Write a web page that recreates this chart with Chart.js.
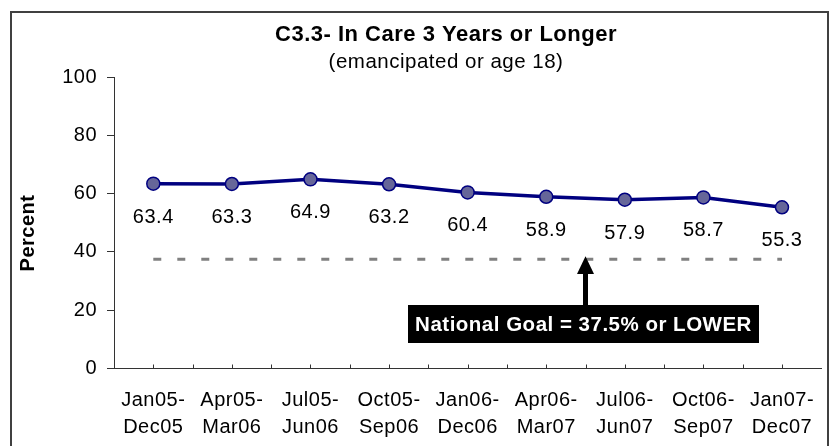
<!DOCTYPE html>
<html>
<head>
<meta charset="utf-8">
<script src="https://cdn.jsdelivr.net/npm/chart.js@4"></script>
<style>
  html, body { margin: 0; padding: 0; background: #fff; }
  #wrap { width: 831px; height: 446px; position: relative; }
</style>
</head>
<body>
<div id="wrap"><canvas id="careChart" width="831" height="446"></canvas></div>
<script>
const periods = [
    ['Jan05-', 'Dec05'], ['Apr05-', 'Mar06'], ['Jul05-', 'Jun06'],
    ['Oct05-', 'Sep06'], ['Jan06-', 'Dec06'], ['Apr06-', 'Mar07'],
    ['Jul06-', 'Jun07'], ['Oct06-', 'Sep07'], ['Jan07-', 'Dec07']
];
const percentValues = [63.4, 63.3, 64.9, 63.2, 60.4, 58.9, 57.9, 58.7, 55.3];
const goalValues = [37.5, 37.5, 37.5, 37.5, 37.5, 37.5, 37.5, 37.5, 37.5];
const yTicks = [0, 20, 40, 60, 80, 100];

const FONT = '"Liberation Sans", Arial, sans-serif';
Chart.defaults.font.family = FONT;
Chart.defaults.color = '#000';

// frame, titles, axis title, goal box and point labels
const extras = {
    id: 'extras',
    beforeDraw(chart) {
        const c = chart.ctx;
        c.save();
        c.fillStyle = '#fff';
        c.fillRect(0, 0, chart.width, chart.height);
        c.strokeStyle = '#404040';
        c.lineWidth = 2;
        c.strokeRect(11, 12, 817, 500);
        c.restore();
        // the original text is set a little wider than Arial
        c.letterSpacing = '0.5px';
    },
    afterDraw(chart) {
        const c = chart.ctx;
        const x = chart.scales.x;
        const y = chart.scales.y;
        c.save();

        // inner tick marks on the category axis (centres and boundaries)
        c.strokeStyle = '#333';
        c.lineWidth = 1;
        const half = (x.getPixelForValue(1) - x.getPixelForValue(0)) / 2;
        c.beginPath();
        periods.forEach((p, i) => {
            const px = x.getPixelForValue(i);
            [px - half, px].forEach(t => {
                c.moveTo(Math.round(t) + 0.5, y.bottom);
                c.lineTo(Math.round(t) + 0.5, y.bottom - 4);
            });
        });
        c.stroke();

        // titles
        c.fillStyle = '#000';
        c.textAlign = 'center';
        c.textBaseline = 'alphabetic';
        c.font = 'bold 22px ' + FONT;
        c.fillText('C3.3- In Care 3 Years or Longer', 446, 41);
        c.font = '20.5px ' + FONT;
        c.fillText('(emancipated or age 18)', 446, 68);

        // y axis title
        c.save();
        c.translate(28, 233);
        c.rotate(-Math.PI / 2);
        c.font = 'bold 20px ' + FONT;
        c.textBaseline = 'middle';
        c.fillText('Percent', 0, 0);
        c.restore();

        // point labels
        c.font = '20px ' + FONT;
        c.textBaseline = 'middle';
        chart.getDatasetMeta(0).data.forEach((pt, i) => {
            c.fillText(percentValues[i].toFixed(1), pt.x, pt.y + 33.5);
        });

        // goal box with arrow
        const tipY = y.getPixelForValue(goalValues[0]) - 3;
        c.fillStyle = '#000';
        c.fillRect(583, 273, 5, 32);
        c.beginPath();
        c.moveTo(577, 274);
        c.lineTo(594, 274);
        c.lineTo(585.5, tipY);
        c.closePath();
        c.fill();
        c.fillRect(408, 305, 351, 38);
        c.fillStyle = '#fff';
        c.font = 'bold 20.5px ' + FONT;
        c.fillText('National Goal = 37.5% or LOWER', 583.5, 325);
        c.restore();
    }
};

const ctx = document.getElementById('careChart').getContext('2d');
const careChart = new Chart(ctx, {
    type: 'line',
    data: {
        labels: periods,
        datasets: [{
            label: 'In Care 3 Years or Longer',
            data: percentValues,
            borderColor: '#000080',
            borderWidth: 3.5,
            backgroundColor: '#666699',
            pointBackgroundColor: '#666699',
            pointBorderColor: '#000080',
            pointBorderWidth: 1.5,
            pointRadius: 6.5,
            tension: 0
        }, {
            label: 'National Goal',
            data: goalValues,
            borderColor: '#808080',
            borderWidth: 3,
            borderDash: [8, 16],
            pointRadius: 0,
            tension: 0
        }]
    },
    options: {
        responsive: false,
        animation: false,
        events: [],
        layout: {
            padding: { left: 0, right: 3, top: 77, bottom: 0 }
        },
        scales: {
            x: {
                offset: true,
                grid: { display: false, drawTicks: false },
                border: { display: true, color: '#333', width: 1 },
                ticks: {
                    padding: 18,
                    maxRotation: 0,
                    autoSkip: false,
                    font: { size: 20, lineHeight: 1.35 }
                },
                afterFit(scale) { scale.height = 77.5; }
            },
            y: {
                min: 0,
                max: 100,
                afterBuildTicks(scale) { scale.ticks = yTicks.map(v => ({ value: v })); },
                grid: {
                    drawOnChartArea: false,
                    drawTicks: true,
                    tickLength: 7,
                    color: '#333'
                },
                border: { display: true, color: '#333', width: 1 },
                ticks: {
                    padding: 10,
                    font: { size: 20 }
                },
                afterFit(scale) { scale.width = 114; }
            }
        },
        plugins: {
            legend: { display: false },
            tooltip: { enabled: false }
        }
    },
    plugins: [extras]
});
</script>
</body>
</html>
